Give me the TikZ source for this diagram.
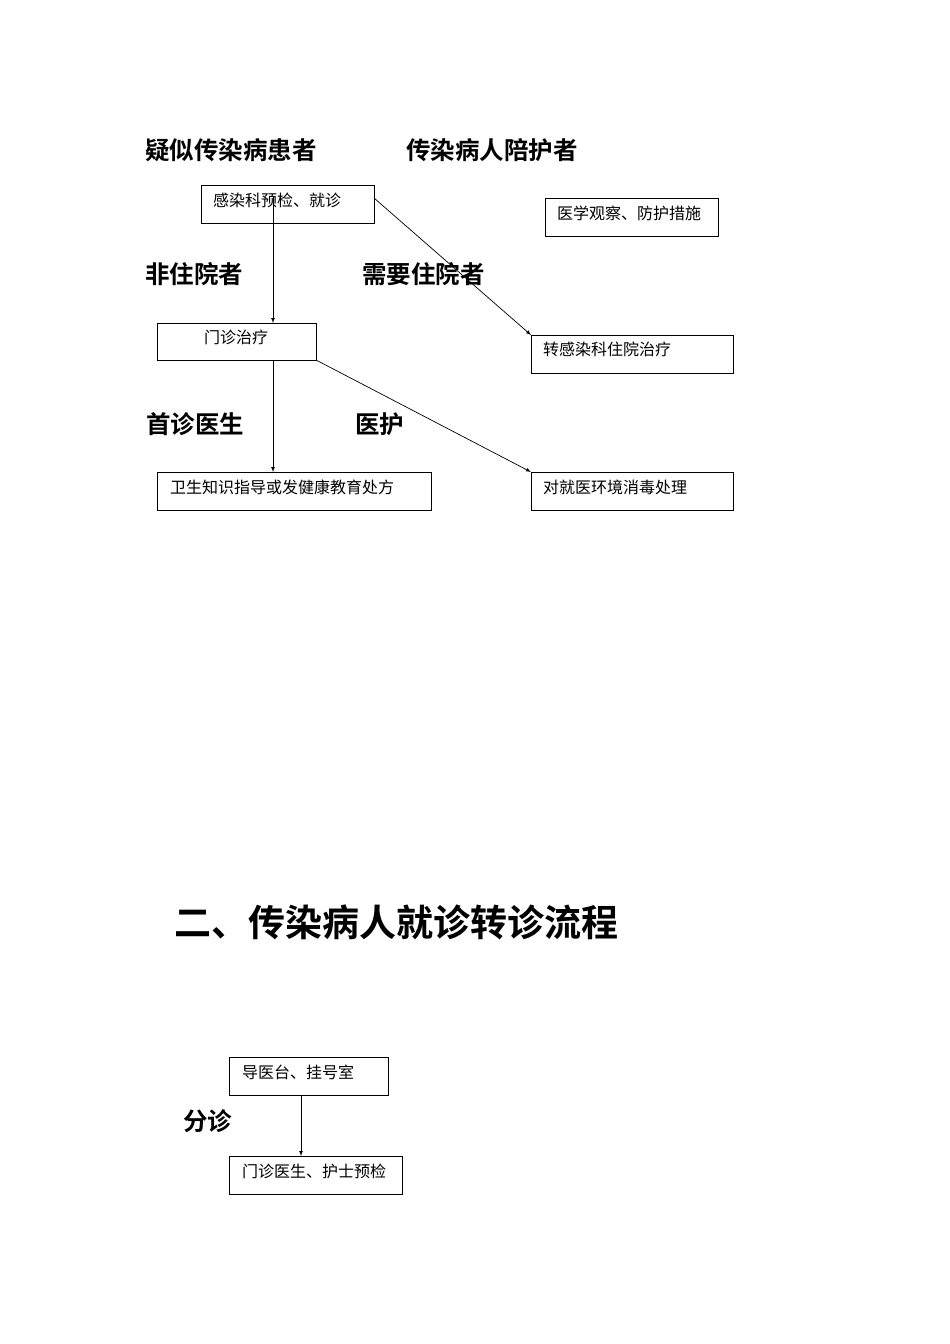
\documentclass[tikz,border=0pt]{standalone}
\usepackage{fontspec}
\newfontfamily\cjk{Noto Sans CJK SC}
\newfontfamily\cjkb{Noto Sans CJK SC Bold}
\begin{document}
\begin{tikzpicture}[x=1pt,y=-1pt,
  bx/.style={draw,line width=0.8pt},
  bt/.style={anchor=west,inner sep=0pt,font=\cjk\fontsize{16}{18}\selectfont},
  hd/.style={anchor=west,inner sep=0pt,font=\cjkb\fontsize{24.5}{28}\selectfont},
  ar/.style={-latex,line width=0.7pt}]
\useasboundingbox[fill=white] (0,0) rectangle (950,1344);
\draw[bx] (201,185) rectangle (374,223) coordinate (b1);
\node[bt] (t1) at (213,200) {感染科预检、就诊};
\draw[bx] (545,198) rectangle (718,236);
\node[bt] (t2) at (557,213) {医学观察、防护措施};
\draw[bx] (157,323) rectangle (316,360);
\node[bt] (t3) at (204,337) {门诊治疗};
\draw[bx] (531,335) rectangle (733,373);
\node[bt] (t4) at (543,349) {转感染科住院治疗};
\draw[bx] (157,472) rectangle (431,510);
\node[bt] (t5) at (170,487) {卫生知识指导或发健康教育处方};
\draw[bx] (531,472) rectangle (733,510);
\node[bt] (t6) at (543,487) {对就医环境消毒处理};
\draw[bx] (229,1057) rectangle (388,1095);
\node[bt] (t7) at (242,1072) {导医台、挂号室};
\draw[bx] (229,1156) rectangle (402,1194);
\node[bt] (t8) at (242,1171) {门诊医生、护士预检};
\coordinate (a1) at (273,197); \coordinate (a2) at (273,323);
\coordinate (b1s) at (374,198); \coordinate (b1e) at (531,335);
\coordinate (c1) at (273,360); \coordinate (c2) at (273,472);
\coordinate (d1) at (316,360); \coordinate (d2) at (531,472);
\coordinate (e1) at (301,1095); \coordinate (e2) at (301,1156);
\draw[ar] (a1) -- (a2);
\draw[ar] (b1s) -- (b1e);
\draw[ar] (c1) -- (c2);
\draw[ar] (d1) -- (d2);
\draw[ar] (e1) -- (e2);
\node[hd] (h1) at (145,150) {疑似传染病患者};
\node[hd] (h2) at (406,150) {传染病人陪护者};
\node[hd] (h3) at (145,274) {非住院者};
\node[hd] (h4) at (362,274) {需要住院者};
\node[hd] (h5) at (146,424) {首诊医生};
\node[hd] (h6) at (355,424) {医护};
\node[anchor=west,inner sep=0pt,font=\cjkb\fontsize{37}{40}\selectfont] (ti) at (174,922) {二、传染病人就诊转诊流程};
\node[hd] (h7) at (183,1121) {分诊};
\end{tikzpicture}
\end{document}
